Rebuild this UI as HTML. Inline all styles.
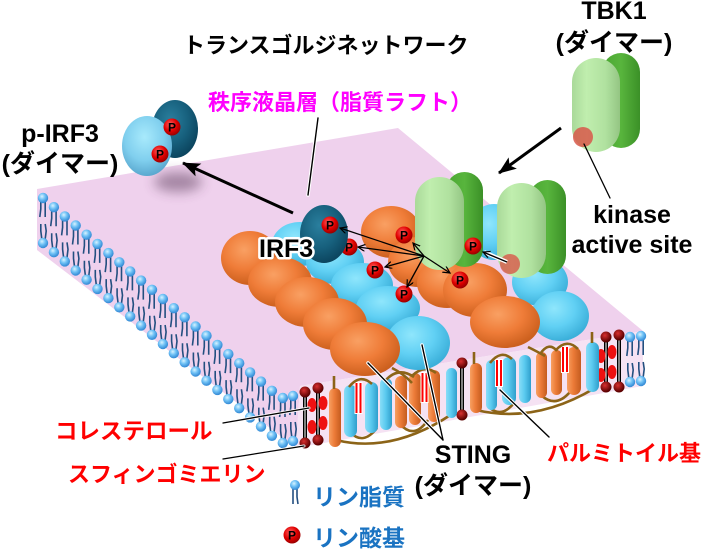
<!DOCTYPE html>
<html><head><meta charset="utf-8"><style>html,body{margin:0;padding:0;background:#fff;width:708px;height:549px;overflow:hidden}svg{display:block}</style></head>
<body>
<svg xmlns="http://www.w3.org/2000/svg" xmlns:xlink="http://www.w3.org/1999/xlink" width="708" height="549" viewBox="0 0 708 549">
<defs>
<radialGradient id="og" cx="40%" cy="35%" r="65%"><stop offset="0" stop-color="#f9a063"/><stop offset=".55" stop-color="#ef7c38"/><stop offset="1" stop-color="#cc601e"/></radialGradient>
<radialGradient id="cg" cx="40%" cy="35%" r="65%"><stop offset="0" stop-color="#8fe6fc"/><stop offset=".55" stop-color="#61d0f4"/><stop offset="1" stop-color="#3cb0da"/></radialGradient>
<radialGradient id="tg" cx="40%" cy="35%" r="65%"><stop offset="0" stop-color="#2a7f9e"/><stop offset=".6" stop-color="#17607d"/><stop offset="1" stop-color="#0c4660"/></radialGradient>
<radialGradient id="lbg" cx="45%" cy="35%" r="65%"><stop offset="0" stop-color="#a8eafc"/><stop offset=".6" stop-color="#80cfee"/><stop offset="1" stop-color="#5aa8cf"/></radialGradient>
<linearGradient id="lgg" x1="0" y1="0" x2="1" y2="0"><stop offset="0" stop-color="#a9d999"/><stop offset=".3" stop-color="#c0eeae"/><stop offset=".7" stop-color="#b0e19f"/><stop offset="1" stop-color="#94c583"/></linearGradient>
<linearGradient id="dgg" x1="0" y1="0" x2="1" y2="0"><stop offset="0" stop-color="#4aa632"/><stop offset=".5" stop-color="#58b53d"/><stop offset="1" stop-color="#3b9027"/></linearGradient>
<linearGradient id="hc" x1="0" y1="0" x2="1" y2="0"><stop offset="0" stop-color="#88ddf7"/><stop offset=".45" stop-color="#5ccbf0"/><stop offset="1" stop-color="#2f9fcc"/></linearGradient>
<linearGradient id="ho" x1="0" y1="0" x2="1" y2="0"><stop offset="0" stop-color="#f7a062"/><stop offset=".45" stop-color="#ec7b38"/><stop offset="1" stop-color="#c45c1f"/></linearGradient>
<radialGradient id="pg" cx="40%" cy="35%" r="65%"><stop offset="0" stop-color="#ff6060"/><stop offset=".6" stop-color="#e00000"/><stop offset="1" stop-color="#9a0000"/></radialGradient>
<radialGradient id="lh" cx="40%" cy="35%" r="60%"><stop offset="0" stop-color="#d8f3ff"/><stop offset=".5" stop-color="#70c2f6"/><stop offset="1" stop-color="#3a8fd8"/></radialGradient>
<radialGradient id="dr" cx="40%" cy="35%" r="60%"><stop offset="0" stop-color="#d83030"/><stop offset="1" stop-color="#5a0000"/></radialGradient>
<filter id="bl" x="-50%" y="-80%" width="200%" height="260%"><feGaussianBlur stdDeviation="6"/></filter>
<g id="lip">
<path d="M-2.2,4 L-2.2,11 L-3.2,19 M2.2,4 L2.2,19 M-2.2,26 L-2.2,33 L-1.2,41 M2.2,26 L3.2,33 L2.2,41" stroke="#234f80" stroke-width="1.6" fill="none"/>
<circle cx="0" cy="0" r="5.2" fill="url(#lh)"/>
<circle cx="0" cy="45" r="5.2" fill="url(#lh)"/>
</g>
<marker id="ba" markerUnits="userSpaceOnUse" markerWidth="20" markerHeight="16" refX="17" refY="7" orient="auto"><path d="M0,0 L18,7 L0,14 L4,7 z" fill="#000"/></marker>
<marker id="sa" markerUnits="userSpaceOnUse" markerWidth="9" markerHeight="8" refX="7" refY="3.5" orient="auto"><path d="M0,0 L7,3.5 L0,7" stroke="#000" stroke-width="1.2" fill="none"/></marker>
</defs>
<rect width="708" height="549" fill="#fff"/>

<polygon points="37,189 398,128 643,331 300,386 296,448 37,250" fill="#efd1ed"/>
<polygon points="300,386 643,331 643,386 296,448" fill="#f5e2f3"/>

<use href="#lip" x="43" y="198"/><use href="#lip" x="53.9" y="207.2"/><use href="#lip" x="64.8" y="216.4"/><use href="#lip" x="75.7" y="225.5"/><use href="#lip" x="86.6" y="234.7"/><use href="#lip" x="97.5" y="243.9"/><use href="#lip" x="108.4" y="253.1"/><use href="#lip" x="119.3" y="262.3"/><use href="#lip" x="130.2" y="271.4"/><use href="#lip" x="141.1" y="280.6"/><use href="#lip" x="152" y="289.8"/><use href="#lip" x="162.9" y="299"/><use href="#lip" x="173.8" y="308.2"/><use href="#lip" x="184.7" y="317.3"/><use href="#lip" x="195.6" y="326.5"/><use href="#lip" x="206.5" y="335.7"/><use href="#lip" x="217.4" y="344.9"/><use href="#lip" x="228.3" y="354.1"/><use href="#lip" x="239.2" y="363.2"/><use href="#lip" x="250.1" y="372.4"/><use href="#lip" x="261" y="381.6"/><use href="#lip" x="271.9" y="390.8"/><use href="#lip" x="282.8" y="398"/><use href="#lip" x="293" y="396"/>
<use href="#lip" x="630" y="337"/><use href="#lip" x="641" y="336"/>

<g>
<line x1="305" y1="392" x2="305" y2="443" stroke="#000" stroke-width="4"/><line x1="305" y1="396" x2="305" y2="439" stroke="#fff" stroke-width="1"/>
<line x1="318" y1="388" x2="318" y2="440" stroke="#000" stroke-width="4"/><line x1="318" y1="392" x2="318" y2="436" stroke="#fff" stroke-width="1"/>
<ellipse cx="312" cy="405" rx="4.5" ry="7" fill="#ee1111"/><ellipse cx="323" cy="403" rx="4.5" ry="7" fill="#ee1111"/>
<ellipse cx="312" cy="427" rx="4.5" ry="7" fill="#ee1111"/><ellipse cx="323" cy="423" rx="4.5" ry="7" fill="#ee1111"/>
<circle cx="305" cy="392" r="5.5" fill="url(#dr)"/><circle cx="318" cy="388" r="5.5" fill="url(#dr)"/>
<circle cx="305" cy="443" r="5.5" fill="url(#dr)"/><circle cx="318" cy="440" r="5.5" fill="url(#dr)"/>

<line x1="606" y1="337" x2="606" y2="387" stroke="#000" stroke-width="4"/><line x1="606" y1="341" x2="606" y2="383" stroke="#fff" stroke-width="1"/>
<line x1="619" y1="335" x2="619" y2="387" stroke="#000" stroke-width="4"/><line x1="619" y1="339" x2="619" y2="383" stroke="#fff" stroke-width="1"/>
<ellipse cx="601" cy="356" rx="4.5" ry="7" fill="#ee1111"/><ellipse cx="612" cy="352" rx="4.5" ry="7" fill="#ee1111"/>
<ellipse cx="601" cy="375" rx="4.5" ry="7" fill="#ee1111"/><ellipse cx="612" cy="372" rx="4.5" ry="7" fill="#ee1111"/>
<circle cx="606" cy="337" r="5.5" fill="url(#dr)"/><circle cx="619" cy="335" r="5.5" fill="url(#dr)"/>
<circle cx="606" cy="387" r="5.5" fill="url(#dr)"/><circle cx="619" cy="387" r="5.5" fill="url(#dr)"/>

<line x1="462" y1="363" x2="462" y2="415" stroke="#000" stroke-width="4"/><line x1="462" y1="367" x2="462" y2="411" stroke="#fff" stroke-width="1"/>
<circle cx="462" cy="363" r="5.5" fill="url(#dr)"/><circle cx="462" cy="415" r="5.5" fill="url(#dr)"/>
</g>

<g fill="none" stroke="#8c6418" stroke-width="2.6">
<path d="M336 440 Q392 454 452 414"/>
<path d="M350 432 Q363 446 377 428"/>
<path d="M400 424 Q414 440 428 420"/>
<path d="M476 410 Q535 424 595 388"/>
<path d="M490 408 Q502 418 514 403"/>
<path d="M542 396 Q556 408 570 392"/>
</g>

<g>
<rect x="329" y="388" width="12" height="59" rx="6" fill="url(#ho)"/>
<rect x="344" y="385" width="13" height="52" rx="6.5" fill="url(#hc)"/>
<rect x="365" y="382" width="13" height="51" rx="6.5" fill="url(#hc)"/>
<rect x="380" y="378" width="12" height="52" rx="6" fill="url(#hc)"/>
<rect x="395" y="376" width="12" height="52" rx="6" fill="url(#ho)"/>
<rect x="409" y="373" width="12" height="52" rx="6" fill="url(#ho)"/>
<rect x="428" y="370" width="12" height="52" rx="6" fill="url(#ho)"/>
<rect x="446" y="368" width="11" height="50" rx="5.5" fill="url(#hc)"/>
<rect x="470" y="363" width="12" height="50" rx="6" fill="url(#ho)"/>
<rect x="486" y="360" width="11" height="50" rx="5.5" fill="url(#hc)"/>
<rect x="502" y="357" width="14" height="48" rx="7" fill="url(#hc)"/>
<rect x="519" y="355" width="12" height="48" rx="6" fill="url(#hc)"/>
<rect x="536" y="352" width="11" height="46" rx="5.5" fill="url(#ho)"/>
<rect x="551" y="350" width="11" height="45" rx="5.5" fill="url(#ho)"/>
<rect x="567" y="347" width="14" height="48" rx="7" fill="url(#ho)"/>
<rect x="586" y="342" width="13" height="50" rx="6.5" fill="url(#hc)"/>
</g>
<g>
<rect x="354.5" y="382" width="8" height="32" fill="#fff"/>
<line x1="356.5" y1="383" x2="356.5" y2="413" stroke="#f00" stroke-width="2"/><line x1="360.5" y1="383" x2="360.5" y2="413" stroke="#f00" stroke-width="2"/>
<rect x="420.5" y="372" width="8" height="31" fill="#fff"/>
<line x1="422.5" y1="373" x2="422.5" y2="402" stroke="#f00" stroke-width="2"/><line x1="426.5" y1="373" x2="426.5" y2="402" stroke="#f00" stroke-width="2"/>
<rect x="495" y="359" width="8" height="28" fill="#fff"/>
<line x1="497" y1="360" x2="497" y2="386" stroke="#f00" stroke-width="2"/><line x1="501" y1="360" x2="501" y2="386" stroke="#f00" stroke-width="2"/>
<rect x="561" y="346" width="8" height="27" fill="#fff"/>
<line x1="563" y1="347" x2="563" y2="372" stroke="#f00" stroke-width="2"/><line x1="567" y1="347" x2="567" y2="372" stroke="#f00" stroke-width="2"/>
</g>
<g fill="none" stroke="#8c6418" stroke-width="2.6">
<path d="M349 387 Q360 373 372 384"/>
<path d="M385 381 Q398 366 414 377"/>
<path d="M392 368 Q404 374 412 383"/>
<path d="M412 376 Q424 364 436 373"/>
<path d="M490 363 Q501 349 512 359"/>
<path d="M528 347 Q538 352 545 356"/>
<path d="M540 354 Q549 341 557 351"/>
<path d="M556 350 Q567 338 578 349"/>
<line x1="334" y1="376" x2="334" y2="389"/>
<line x1="474" y1="352" x2="474" y2="364"/>
<line x1="592" y1="332" x2="592" y2="343"/>
</g>

<ellipse cx="178" cy="182" rx="24" ry="10" fill="#4a2a4a" opacity=".45" filter="url(#bl)"/>

<ellipse cx="494" cy="232" rx="26" ry="28" fill="url(#cg)"/>
<ellipse cx="540" cy="282" rx="28" ry="24" fill="url(#cg)"/>
<ellipse cx="560" cy="316" rx="29" ry="25" fill="url(#cg)"/>
<ellipse cx="391" cy="232" rx="30" ry="26" fill="url(#og)"/>
<ellipse cx="418" cy="262" rx="30" ry="25" fill="url(#og)"/>
<ellipse cx="447" cy="283" rx="30" ry="25" fill="url(#og)"/>
<ellipse cx="475" cy="290" rx="32" ry="27" fill="url(#og)"/>
<ellipse cx="505" cy="322" rx="35" ry="26" fill="url(#og)"/>
<ellipse cx="300" cy="244" rx="28" ry="22" fill="url(#cg)"/>
<ellipse cx="335" cy="262" rx="29" ry="22" fill="url(#cg)"/>
<ellipse cx="362" cy="285" rx="31" ry="22" fill="url(#cg)"/>
<ellipse cx="388" cy="308" rx="32" ry="22" fill="url(#cg)"/>
<ellipse cx="418" cy="343" rx="32" ry="27" fill="url(#cg)"/>
<ellipse cx="250" cy="258" rx="29" ry="27" fill="url(#og)"/>
<ellipse cx="280" cy="282" rx="32" ry="25" fill="url(#og)"/>
<ellipse cx="307" cy="302" rx="32" ry="25" fill="url(#og)"/>
<ellipse cx="335" cy="324" rx="32" ry="26" fill="url(#og)"/>
<ellipse cx="365" cy="349" rx="35" ry="27" fill="url(#og)"/>

<circle cx="349" cy="247" r="8.5" fill="url(#pg)"/>
<text x="349" y="251.5" font-family="Liberation Sans, sans-serif" font-weight="bold" font-size="12" text-anchor="middle">P</text>
<ellipse cx="324" cy="234" rx="24" ry="29" fill="url(#tg)"/>

<rect x="446" y="172" width="37" height="95" rx="18.5" fill="url(#dgg)"/>
<rect x="415" y="177" width="49" height="93" rx="24.5" fill="url(#lgg)"/>
<rect x="529" y="180" width="37" height="94" rx="18.5" fill="url(#dgg)"/>
<rect x="497" y="183" width="49" height="95" rx="24.5" fill="url(#lgg)"/>
<circle cx="510" cy="264" r="10" fill="#d8584a" opacity=".8"/>
<rect x="602" y="53" width="38" height="95" rx="19" fill="url(#dgg)"/>
<rect x="572" y="58" width="48" height="94" rx="24" fill="url(#lgg)"/>
<circle cx="583" cy="137" r="10" fill="#d8584a" opacity=".85"/>

<ellipse cx="175" cy="129" rx="23" ry="29" fill="url(#tg)"/>
<ellipse cx="147" cy="146" rx="25" ry="30" fill="url(#lbg)"/>

<g font-family="Liberation Sans, sans-serif" font-weight="bold" font-size="12" text-anchor="middle">
<circle cx="172" cy="127" r="8.5" fill="url(#pg)"/><text x="172" y="131.5">P</text>
<circle cx="160" cy="154" r="8.5" fill="url(#pg)"/><text x="160" y="158.5">P</text>
<circle cx="330" cy="225" r="8.5" fill="url(#pg)"/><text x="330" y="229.5">P</text>
<circle cx="404" cy="235" r="8.5" fill="url(#pg)"/><text x="404" y="239.5">P</text>
<circle cx="375" cy="270" r="8.5" fill="url(#pg)"/><text x="375" y="274.5">P</text>
<circle cx="404" cy="294" r="8.5" fill="url(#pg)"/><text x="404" y="298.5">P</text>
<circle cx="460" cy="280" r="8.5" fill="url(#pg)"/><text x="460" y="284.5">P</text>
<circle cx="473" cy="246" r="8.5" fill="url(#pg)"/><text x="473" y="250.5">P</text>
</g>

<g stroke="#000" stroke-width="1.3" fill="none" marker-end="url(#sa)">
<line x1="424" y1="256" x2="340" y2="228"/>
<line x1="424" y1="256" x2="358" y2="247"/>
<line x1="424" y1="256" x2="413" y2="243"/>
<line x1="424" y1="256" x2="385" y2="267"/>
<line x1="424" y1="256" x2="407" y2="287"/>
<line x1="424" y1="256" x2="450" y2="273"/>
</g>
<line x1="507" y1="262" x2="484" y2="252" stroke="#fff" stroke-width="4"/>
<line x1="507" y1="262" x2="483" y2="252" stroke="#000" stroke-width="1.4" marker-end="url(#sa)"/>

<line x1="293" y1="213" x2="183" y2="163" stroke="#000" stroke-width="3" marker-end="url(#ba)"/>
<line x1="561" y1="128" x2="499" y2="173" stroke="#000" stroke-width="3" marker-end="url(#ba)"/>

<g stroke-linecap="round">
<line x1="318" y1="118" x2="308" y2="195" stroke="#fff" stroke-width="3.5"/>
<line x1="318" y1="118" x2="308" y2="195" stroke="#000" stroke-width="1.4"/>
<line x1="584" y1="144" x2="610" y2="198" stroke="#000" stroke-width="1.3"/>
<line x1="443" y1="440" x2="368" y2="363" stroke="#fff" stroke-width="3.5"/>
<line x1="443" y1="440" x2="422" y2="345" stroke="#fff" stroke-width="3.5"/>
<line x1="443" y1="440" x2="368" y2="363" stroke="#000" stroke-width="1.4"/>
<line x1="443" y1="440" x2="422" y2="345" stroke="#000" stroke-width="1.4"/>
<line x1="549" y1="437" x2="500" y2="390" stroke="#fff" stroke-width="3.5"/>
<line x1="549" y1="437" x2="500" y2="390" stroke="#000" stroke-width="1.4"/>
<line x1="223" y1="423" x2="309" y2="408" stroke="#fff" stroke-width="3"/>
<line x1="223" y1="423" x2="309" y2="408" stroke="#000" stroke-width="1.3"/>
<line x1="223" y1="459" x2="304" y2="446" stroke="#fff" stroke-width="3"/>
<line x1="223" y1="459" x2="304" y2="446" stroke="#000" stroke-width="1.3"/>
</g>

<path d="M293,489 L293,504 M297,489 L297,497 L298,504" stroke="#234f80" stroke-width="1.6" fill="none"/>
<circle cx="295" cy="485" r="5" fill="url(#lh)"/>
<circle cx="292" cy="535" r="8.5" fill="url(#pg)"/>
<text x="292" y="539.5" font-family="Liberation Sans, sans-serif" font-weight="bold" font-size="12" text-anchor="middle">P</text>

<g font-family="Liberation Sans, 'Noto Sans CJK JP', sans-serif">
<text x="183" y="53" font-size="22" font-weight="bold" fill="#000">トランスゴルジネットワーク</text>
<text x="614" y="19" font-size="25" font-weight="bold" text-anchor="middle">TBK1</text>
<text x="614" y="51" font-size="25" font-weight="bold" text-anchor="middle">(ダイマー)</text>
<text x="208" y="110" font-size="22" font-weight="bold" fill="#ff00ff">秩序液晶層（脂質ラフト）</text>
<text x="60" y="142" font-size="25" font-weight="bold" text-anchor="middle">p-IRF3</text>
<text x="60" y="172" font-size="25" font-weight="bold" text-anchor="middle">(ダイマー)</text>
<text x="259" y="257" font-size="25" font-weight="bold" stroke="#fff" stroke-width="5" stroke-linejoin="round" paint-order="stroke">IRF3</text>
<text x="632" y="223" font-size="25" font-weight="bold" text-anchor="middle">kinase</text>
<text x="632" y="253" font-size="25" font-weight="bold" text-anchor="middle">active site</text>
<text x="473" y="463" font-size="25" font-weight="bold" text-anchor="middle">STING</text>
<text x="473" y="494" font-size="25" font-weight="bold" text-anchor="middle">(ダイマー)</text>
<text x="547" y="461" font-size="22" font-weight="bold" fill="#ff0000">パルミトイル基</text>
<text x="55" y="439" font-size="22.5" font-weight="bold" fill="#ff0000">コレステロール</text>
<text x="68" y="482" font-size="22" font-weight="bold" fill="#ff0000">スフィンゴミエリン</text>
<text x="313" y="505" font-size="23" font-weight="bold" fill="#1a73c2">リン脂質</text>
<text x="313" y="546" font-size="23" font-weight="bold" fill="#1a73c2">リン酸基</text>
</g>
</svg>
</body></html>
